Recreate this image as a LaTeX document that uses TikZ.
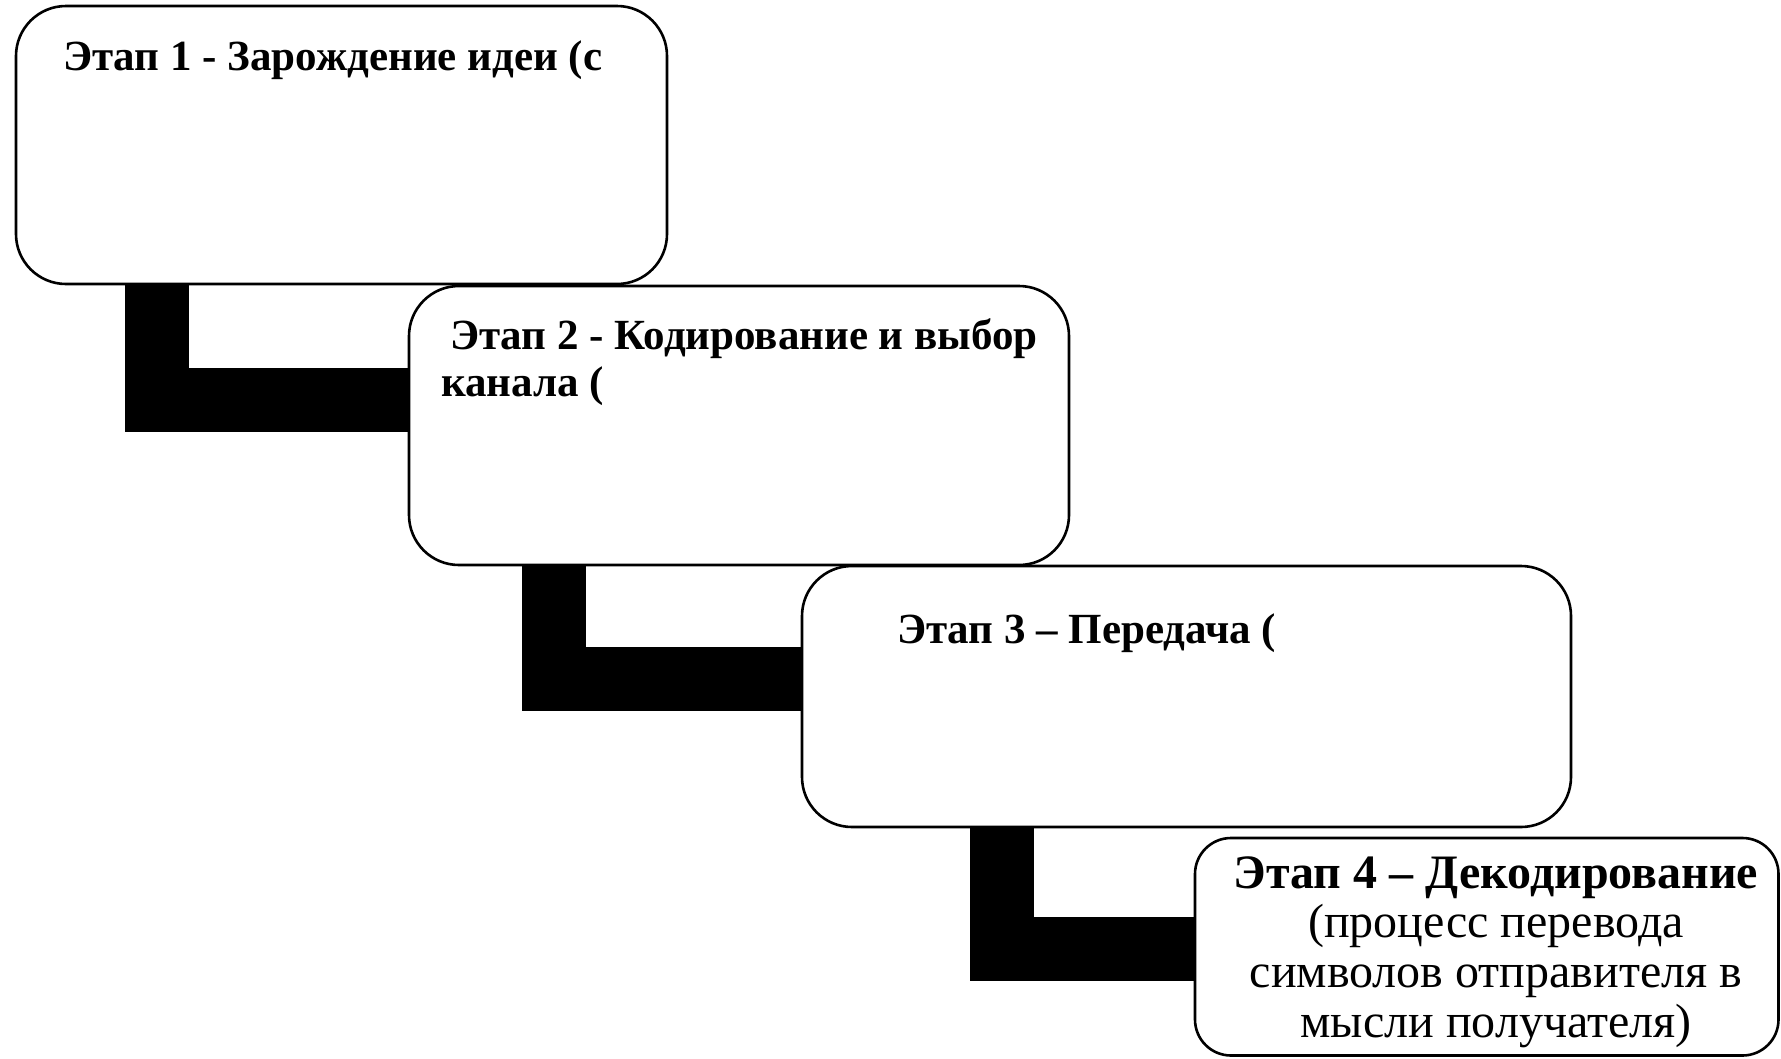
\documentclass[tikz,border=0pt]{standalone}
\usepackage{fontspec}
\setmainfont{Liberation Serif}
\begin{document}
\begin{tikzpicture}[x=1pt,y=-1pt,
  stage/.style={draw=black,line width=2.6pt,rounded corners=50pt,fill=white},
  link/.style={line width=64pt,line join=miter,line cap=butt},
  lbl/.style={inner sep=0pt,anchor=base west,font=\fontsize{43}{47}\selectfont\bfseries},
]
\useasboundingbox (0,0) rectangle (1781,1058);
\clip (0,0) rectangle (1781,1058);
\fill[white] (0,0) rectangle (1781,1058);
% connectors (behind boxes)
\coordinate (c1a) at (157,284);
\coordinate (c1b) at (409,399.5);
\coordinate (c2a) at (553.5,565);
\coordinate (c2b) at (802,679);
\coordinate (c3a) at (1001.5,827);
\coordinate (c3b) at (1195,949);
\draw[link] (c1a) |- (c1b);
\draw[link] (c2a) |- (c2b);
\draw[link] (c3a) |- (c3b);
% boxes
\draw[stage] (16,6) rectangle (667,284);
\node[inner sep=0pt] (b1) at (341.5,145) {};
\draw[stage] (409,286) rectangle (1069,565);
\node[inner sep=0pt] (b2) at (739,425) {};
\draw[stage] (802,566) rectangle (1571,827);
\node[inner sep=0pt] (b3) at (1186,696) {};
\draw[stage,rounded corners=36pt] (1195,838) rectangle (1778.5,1055.5);
\node[inner sep=0pt] (b4) at (1487,947) {};
% texts
\node[lbl] (t1) at (63,70) {Этап 1 - Зарождение идеи (с};
\node[lbl,align=left] (t2) at (441,396) {\hspace*{9pt}Этап 2 - Кодирование и выбор\\канала (};
\node[lbl] (t3) at (897,643) {Этап 3 – Передача (};
\node[inner sep=0pt,anchor=base,align=center,font=\fontsize{48}{49.6}\selectfont] (t4) at (1496,1037)
  {\textbf{Этап 4 – Декодирование}\\(процесс перевода\\символов отправителя в\\мысли получателя)};
\end{tikzpicture}
\end{document}
